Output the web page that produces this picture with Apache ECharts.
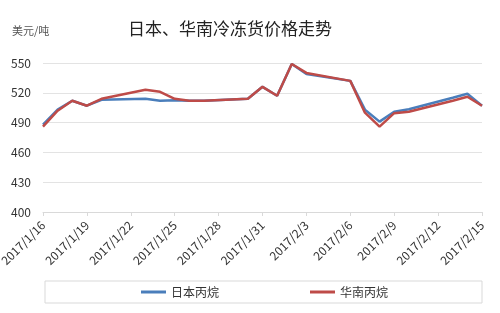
<!DOCTYPE html>
<html><head><meta charset="utf-8">
<script src="https://cdn.jsdelivr.net/npm/echarts@6/dist/echarts.min.js"></script>
<style>html,body{margin:0;padding:0;background:#fff}#c{width:500px;height:313px}</style>
</head><body><div id="c"></div>
<script>
const categories = ["2017/1/16","2017/1/17","2017/1/18","2017/1/19","2017/1/20","2017/1/21","2017/1/22","2017/1/23","2017/1/24","2017/1/25","2017/1/26","2017/1/27","2017/1/28","2017/1/29","2017/1/30","2017/1/31","2017/2/1","2017/2/2","2017/2/3","2017/2/4","2017/2/5","2017/2/6","2017/2/7","2017/2/8","2017/2/9","2017/2/10","2017/2/11","2017/2/12","2017/2/13","2017/2/14","2017/2/15"];
const japan = [488,503,512,507,513,null,null,514,512,512.5,512,512,null,null,514,526,517,549,539,null,null,532,503,491,501,503.5,null,null,515,519,507];
const southChina = [486,502,512,507,514,null,null,523,521,514,512,512,null,null,514,526,517,549,540,null,null,532,500,486,499.5,501,null,null,512,516,507];
const yTicks = [400,430,460,490,520,550];
const seriesNames = ["日本丙烷","华南丙烷"];
const font = "'Noto Sans CJK SC', 'Noto Sans', sans-serif";
const chart = echarts.init(document.getElementById('c'));
chart.setOption({
  animation:false,
  textStyle:{fontFamily:font},
  title:[
    {text:"日本、华南冷冻货价格走势",left:128,top:20,padding:0,textStyle:{fontSize:17,fontWeight:'normal',color:'#222',fontFamily:font}},
    {text:"美元/吨",left:12,top:25,padding:0,textStyle:{fontSize:11,fontWeight:'normal',color:'#555',fontFamily:font}}
  ],
  grid:{left:43,right:18,top:63,bottom:101,containLabel:false,outerBoundsMode:'none'},
  legend:{
    data:seriesNames,top:281,left:45,
    itemWidth:25,itemHeight:3,itemGap:91,icon:'rect',
    borderColor:'#d9d9d9',borderWidth:1,padding:[5,94,5,96],
    textStyle:{fontSize:12,color:'#333',fontFamily:font}
  },
  xAxis:{
    type:'category',data:categories,boundaryGap:false,
    axisLine:{lineStyle:{color:'#d9d9d9'}},
    axisTick:{interval:2,lineStyle:{color:'#d9d9d9'},length:4},
    axisLabel:{interval:2,rotate:45,fontSize:12,color:'#333',margin:11,fontFamily:font}
  },
  yAxis:{
    type:'value',min:yTicks[0],max:yTicks[yTicks.length-1],interval:30,
    axisLine:{show:false},axisTick:{show:false},
    axisLabel:{fontSize:12,color:'#333',margin:12,fontFamily:font},
    splitLine:{lineStyle:{color:'#e3e3e3'}}
  },
  series:[
    {name:seriesNames[0],type:'line',data:japan,connectNulls:true,showSymbol:false,symbol:'none',
     lineStyle:{width:2.5,color:'#4a7ebb'},itemStyle:{color:'#4a7ebb'}},
    {name:seriesNames[1],type:'line',data:southChina,connectNulls:true,showSymbol:false,symbol:'none',
     lineStyle:{width:2.5,color:'#be4b48'},itemStyle:{color:'#be4b48'}}
  ]
});
</script></body></html>
